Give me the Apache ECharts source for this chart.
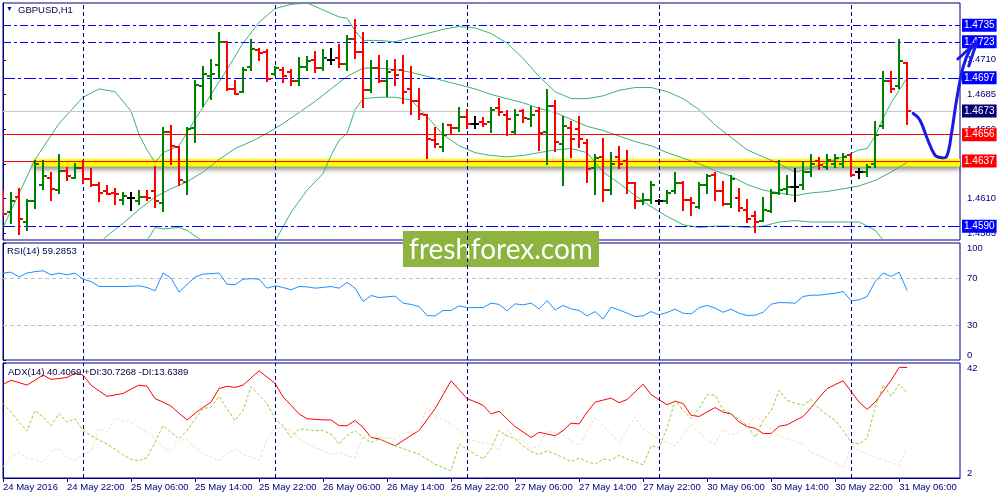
<!DOCTYPE html>
<html><head><meta charset="utf-8">
<script src="https://cdn.jsdelivr.net/npm/echarts@6/dist/echarts.min.js"></script>
<style>html,body{margin:0;padding:0;background:#fff}#c{width:1000px;height:500px}</style>
</head><body><div id="c"></div>
<script>
// ---- time axis ----
const timeLabels = ["24 May 2016","24 May 22:00","25 May 06:00","25 May 14:00","25 May 22:00","26 May 06:00","26 May 14:00","26 May 22:00","27 May 06:00","27 May 14:00","27 May 22:00","30 May 06:00","30 May 14:00","30 May 22:00","31 May 06:00"];
const tickBars = [0,8,16,24,32,40,48,56,64,72,80,88,96,104,112];
const daySeparators = [10,34,58,82,106];

// ---- GBPUSD H1 OHLC (bar index 0 = 24 May 14:00) ----
const opens = [1.4614,1.4600,1.4611,1.4593,1.4608,1.4620,1.4625,1.4616,1.4630,1.4625,1.4632,1.4624,1.4620,1.4615,1.4614,1.4609,1.4610,1.4608,1.4611,1.4615,1.4607,1.4658,1.4647,1.4622,1.4661,1.4691,1.4698,1.4706,1.4723,1.4689,1.4687,1.4705,1.4717,1.4716,1.4700,1.4703,1.4701,1.4695,1.4705,1.4710,1.4704,1.4710,1.4711,1.4707,1.4725,1.4716,1.4688,1.4704,1.4695,1.4703,1.4703,1.4689,1.4680,1.4670,1.4652,1.4647,1.4663,1.4661,1.4669,1.4664,1.4665,1.4665,1.4675,1.4670,1.4658,1.4673,1.4667,1.4673,1.4658,1.4677,1.4649,1.4661,1.4660,1.4650,1.4632,1.4640,1.4616,1.4640,1.4637,1.4621,1.4608,1.4609,1.4608,1.4608,1.4615,1.4621,1.4609,1.4604,1.4620,1.4627,1.4615,1.4606,1.4610,1.4602,1.4597,1.4594,1.4601,1.4614,1.4617,1.4618,1.4620,1.4629,1.4637,1.4633,1.4635,1.4635,1.4641,1.4629,1.4629,1.4635,1.4662,1.4695,1.4691,1.4708];
const highs = [1.4615,1.4614,1.4617,1.4609,1.4637,1.4637,1.4628,1.4641,1.4632,1.4635,1.4637,1.4631,1.4621,1.4619,1.4617,1.4614,1.4614,1.4615,1.4615,1.4633,1.4661,1.4662,1.4647,1.4661,1.4695,1.4705,1.4710,1.4729,1.4723,1.4695,1.4704,1.4724,1.4718,1.4717,1.4705,1.4704,1.4703,1.4711,1.4712,1.4716,1.4717,1.4718,1.4721,1.4727,1.4739,1.4729,1.4709,1.4713,1.4709,1.4710,1.4713,1.4705,1.4689,1.4670,1.4661,1.4664,1.4663,1.4675,1.4674,1.4669,1.4668,1.4675,1.4682,1.4673,1.4674,1.4674,1.4676,1.4675,1.4688,1.4680,1.4669,1.4665,1.4669,1.4652,1.4641,1.4653,1.4643,1.4647,1.4644,1.4621,1.4613,1.4622,1.4609,1.4615,1.4628,1.4622,1.4610,1.4621,1.4627,1.4628,1.4622,1.4626,1.4617,1.4609,1.4600,1.4610,1.4616,1.4637,1.4626,1.4631,1.4636,1.4641,1.4639,1.4641,1.4641,1.4642,1.4641,1.4631,1.4634,1.4665,1.4701,1.4701,1.4724,1.4708];
const lows = [1.4598,1.4592,1.4584,1.4587,1.4603,1.4617,1.4609,1.4614,1.4623,1.4625,1.4621,1.4619,1.4608,1.4613,1.4606,1.4606,1.4602,1.4606,1.4609,1.4604,1.4601,1.4635,1.4620,1.4613,1.4651,1.4677,1.4682,1.4697,1.4688,1.4685,1.4687,1.4703,1.4710,1.4695,1.4699,1.4694,1.4692,1.4692,1.4703,1.4701,1.4703,1.4707,1.4705,1.4703,1.4711,1.4676,1.4687,1.4694,1.4684,1.4692,1.4679,1.4671,1.4667,1.4639,1.4647,1.4644,1.4657,1.4659,1.4661,1.4661,1.4662,1.4658,1.4670,1.4656,1.4657,1.4665,1.4662,1.4645,1.4635,1.4644,1.4620,1.4640,1.4647,1.4622,1.4613,1.4608,1.4613,1.4632,1.4614,1.4603,1.4606,1.4607,1.4606,1.4607,1.4614,1.4602,1.4598,1.4603,1.4614,1.4609,1.4605,1.4604,1.4601,1.4593,1.4586,1.4594,1.4600,1.4613,1.4613,1.4608,1.4617,1.4626,1.4631,1.4631,1.4633,1.4633,1.4626,1.4625,1.4626,1.4633,1.4661,1.4687,1.4690,1.4664];
const closes = [1.4599,1.4608,1.4595,1.4608,1.4635,1.4626,1.4617,1.4630,1.4626,1.4632,1.4624,1.4620,1.4614,1.4613,1.4613,1.4612,1.4610,1.4611,1.4610,1.4608,1.4658,1.4648,1.4623,1.4660,1.4692,1.4700,1.4700,1.4723,1.4689,1.4685,1.4703,1.4718,1.4715,1.4696,1.4704,1.4698,1.4695,1.4705,1.4709,1.4704,1.4711,1.4710,1.4707,1.4725,1.4716,1.4688,1.4704,1.4695,1.4701,1.4699,1.4687,1.4680,1.4671,1.4653,1.4649,1.4656,1.4661,1.4669,1.4664,1.4664,1.4664,1.4674,1.4672,1.4667,1.4670,1.4668,1.4670,1.4657,1.4677,1.4651,1.4662,1.4653,1.4653,1.4631,1.4639,1.4616,1.4635,1.4635,1.4621,1.4608,1.4609,1.4620,1.4608,1.4614,1.4621,1.4609,1.4607,1.4620,1.4626,1.4615,1.4606,1.4624,1.4603,1.4595,1.4593,1.4602,1.4614,1.4616,1.4618,1.4618,1.4629,1.4635,1.4634,1.4638,1.4639,1.4640,1.4627,1.4629,1.4633,1.4656,1.4695,1.4689,1.4709,1.4673];

// ---- Bollinger bands (bar index, price) ----
const bbUpperIdx = [0,4,7,10,12,14,16,17,18,19,20,22,24,26,28,30,32,34,36,38,40,42,43,44,45,47,49,51,53,55,57,59,61,63,65,67,69,71,73,75,77,79,81,83,85,87,89,91,93,95,97,99,101,103,105,107,108,109,110,111,112,113];
const bbUpper = [1.4589,1.4638,1.4664,1.4683,1.4689,1.4687,1.4673,1.4656,1.4645,1.4636,1.4643,1.4648,1.4667,1.4685,1.4703,1.4722,1.4737,1.4747,1.4750,1.4751,1.4746,1.4741,1.4740,1.4731,1.4724,1.4724,1.4723,1.4726,1.4729,1.4732,1.4734,1.4733,1.4729,1.4722,1.4711,1.4698,1.4687,1.4682,1.4682,1.4684,1.4688,1.4690,1.4690,1.4687,1.4682,1.4674,1.4663,1.4654,1.4645,1.4640,1.4635,1.4629,1.4632,1.4636,1.4640,1.4645,1.4646,1.4655,1.4668,1.4679,1.4688,1.4697];
const bbMiddleIdx = [11,13,15,17,19,21,23,25,27,29,31,33,35,37,39,41,43,45,47,49,51,53,55,57,59,61,63,65,67,69,71,73,75,77,79,81,83,85,87,89,91,93,95,97,99,101,103,105,107,109,111,113];
const bbMiddle = [1.4572,1.4583,1.4592,1.4602,1.4611,1.4617,1.4622,1.4629,1.4638,1.4646,1.4651,1.4657,1.4664,1.4672,1.4680,1.4689,1.4698,1.4704,1.4704,1.4703,1.4701,1.4698,1.4695,1.4692,1.4689,1.4685,1.4682,1.4679,1.4675,1.4672,1.4667,1.4662,1.4659,1.4655,1.4651,1.4648,1.4643,1.4639,1.4635,1.4630,1.4626,1.4620,1.4616,1.4614,1.4612,1.4614,1.4615,1.4617,1.4619,1.4623,1.4629,1.4636];
const bbLowerIdx = [17,19,20,22,23,25,27,33,34,36,38,40,41,42,43,44,45,47,49,51,53,55,57,59,61,63,65,67,69,71,73,75,77,79,81,83,85,87,89,91,93,95,97,99,101,103,105,107,109,110,111];
const bbLower = [1.4570,1.4589,1.4588,1.4589,1.4587,1.4579,1.4568,1.4566,1.4579,1.4600,1.4616,1.4628,1.4641,1.4652,1.4657,1.4674,1.4682,1.4683,1.4683,1.4681,1.4669,1.4656,1.4648,1.4643,1.4641,1.4640,1.4641,1.4643,1.4645,1.4646,1.4643,1.4629,1.4621,1.4612,1.4604,1.4597,1.4591,1.4589,1.4590,1.4590,1.4589,1.4590,1.4593,1.4594,1.4593,1.4593,1.4593,1.4593,1.4587,1.4580,1.4571];

// ---- horizontal levels ----
const blueLevels = [1.4735, 1.4723, 1.4697, 1.4590];
const redLevels = [1.4656, 1.4637];
const bidPrice = 1.4673;
const zoneBars = [3.75, 119.6];
const zonePrices = [1.4633, 1.46385];
const priceTicks = [1.4585, 1.4610, 1.4635, 1.4660, 1.4685, 1.4710, 1.4735];

// ---- hand-drawn arrow annotation (bar index, price) ----
const arrowPath = [[113.74,1.46714],[114.58,1.46666],[115.42,1.46545],[116.46,1.46413],[117.2,1.46395],[117.92,1.46401],[118.54,1.46570],[119.17,1.46810],[120.0,1.47050],[120.83,1.47171],[121.67,1.47219]];
const arrowHead = [[119.33,1.47106],[121.7,1.47229],[120.7,1.47055]];

// ---- RSI(14) ----
const rsi = [74.3,75.1,70.9,74.3,75.5,76.3,72.8,74.3,72.8,74.3,69.1,67.1,62.8,62.8,62.8,62.8,63.0,63.4,62.0,59.1,74.3,70.0,58.0,64.5,70.9,73.4,73.8,74.3,64.8,64.3,69.1,69.5,69.1,61.4,63.4,62.0,60.0,62.8,62.5,61.4,62.0,62.8,61.4,66.3,61.4,50.0,55.1,53.4,54.0,54.6,48.6,47.5,45.7,38.0,37.7,42.3,42.3,46.3,44.8,44.8,44.8,48.6,47.5,42.0,48.0,47.1,48.6,43.7,50.8,42.8,46.6,43.7,42.3,37.7,41.4,35.1,45.1,42.8,40.0,37.1,37.7,41.4,38.6,40.6,43.4,40.0,39.4,44.8,46.6,44.3,40.8,43.4,40.0,38.0,38.3,40.8,47.7,49.1,48.9,48.6,54.3,55.4,55.4,56.3,57.0,58.6,50.6,51.4,54.3,67.1,74.3,71.4,75.1,59.3];
const rsiLevels = [30, 70];
const rsiTicks = [0, 30, 70, 100];

// ---- ADX(14) ----
const adx = [34.6,36.0,35.2,34.3,36.0,37.8,36.3,36.6,37.0,38.4,37.8,34.3,32.3,30.4,30.9,31.4,32.9,34.3,33.9,29.6,28.4,27.0,24.5,22.2,24.5,26.5,28.4,33.1,33.9,33.5,34.3,36.8,39.3,37.1,34.9,30.2,27.3,24.3,22.6,22.4,22.2,22.2,20.2,20.2,22.0,19.6,16.1,15.6,14.4,13.2,15.0,16.8,18.5,22.3,26.1,31.0,35.8,32.7,29.6,28.5,27.3,24.3,25.2,22.5,19.9,18.0,16.1,17.9,17.3,16.7,18.5,21.1,20.8,24.9,28.4,29.1,29.8,28.2,29.3,32.0,34.6,31.0,29.2,27.5,28.7,27.9,23.8,23.4,25.0,26.5,24.9,24.3,21.5,19.9,19.3,17.5,17.5,20.0,20.5,22.0,23.4,26.5,30.0,33.1,34.5,35.8,32.0,28.4,25.9,28.4,32.2,36.0,40.5,40.4];
const plusDI = [27.9,24.9,21.4,18.3,25.5,23.2,20.2,24.4,21.4,22.6,18.5,16.7,15.2,13.8,12.1,10.0,8.5,8.0,9.1,14.4,20.2,17.9,15.6,18.5,22.5,26.1,26.7,30.4,26.0,22.0,25.5,33.7,30.8,27.9,22.6,20.2,16.1,19.1,18.8,18.5,18.5,17.3,13.8,16.7,18.5,16.1,14.4,15.6,14.4,13.2,12.2,11.2,10.3,8.5,6.8,5.6,4.5,13.8,12.0,10.3,8.6,12.1,18.5,16.7,15.6,13.2,11.2,10.1,11.5,10.3,9.1,7.7,8.9,7.7,6.8,8.6,8.2,9.9,8.6,7.6,6.6,13.2,12.4,19.6,29.0,25.5,22.6,26.1,31.0,30.8,25.7,24.4,22.3,20.2,16.1,22.0,25.5,32.5,29.0,28.0,27.3,29.3,26.1,24.0,22.0,18.5,14.4,13.8,15.9,26.7,34.3,30.4,34.6,31.6];
const minusDI = [5.9,9.1,10.9,9.1,8.2,7.4,11.5,12.1,9.1,8.0,10.3,11.5,19.1,17.9,22.9,22.0,21.4,19.6,17.9,15.6,12.6,11.5,15.0,15.6,12.6,10.3,9.2,8.0,10.6,12.1,10.3,9.2,8.2,15.6,19.1,19.6,18.5,15.6,13.8,12.6,11.5,10.3,10.9,9.7,9.1,16.7,16.4,16.1,15.8,15.6,17.6,17.9,18.5,26.7,23.2,22.6,20.5,18.5,15.6,14.8,14.4,13.8,11.5,18.5,16.1,15.0,12.1,13.2,18.5,17.6,16.7,15.0,13.2,18.2,23.2,20.2,17.3,14.4,18.8,23.2,19.1,17.3,15.6,14.4,13.2,17.0,20.8,17.9,15.0,13.8,19.1,16.7,18.2,19.6,23.8,21.5,19.0,16.7,15.6,14.7,13.8,10.9,9.8,8.6,7.1,5.6,13.2,11.5,10.3,9.1,8.2,7.4,6.2,12.6];
const adxTicks = [2, 42];

// ---- styling ----
const NAVY = '#000080', TXT = '#00004a', FONT = 'Liberation Sans';
const BULL = '#008000', BEAR = '#ff0000', DOJI = '#000000', BB = '#3cb371';
const ARROW = '#1a1ae6';
const XMAX = 119.6;

const ohlcData = opens.map((o, i) => [i, o, highs[i], lows[i], closes[i]]);
const pairs = (idx, vals) => idx.map((x, k) => [x, vals[k]]);
const indexed = vals => vals.map((v, i) => [i, v]);

function renderBar(params, api) {
  const i = api.value(0), o = api.value(1), h = api.value(2), l = api.value(3), c = api.value(4);
  const pH = api.coord([i, h]), pL = api.coord([i, l]), pO = api.coord([i, o]), pC = api.coord([i, c]);
  const x = Math.round(pH[0]);
  const col = c > o ? BULL : (c < o ? BEAR : DOJI);
  const st = { stroke: col, lineWidth: 2 };
  const yo = Math.round(pO[1]), yc = Math.round(pC[1]);
  return { type: 'group', children: [
    { type: 'line', shape: { x1: x, y1: Math.round(pH[1]) - 1, x2: x, y2: Math.round(pL[1]) + 1 }, style: st },
    { type: 'line', shape: { x1: x - 4, y1: yo, x2: x, y2: yo }, style: st },
    { type: 'line', shape: { x1: x, y1: yc, x2: x + 4, y2: yc }, style: st }
  ]};
}

const sepMark = {
  silent: true, symbol: 'none', z: 4, precision: 5, label: { show: false },
  lineStyle: { color: NAVY, type: [4, 3], width: 1 },
  data: daySeparators.map(b => ({ xAxis: b }))
};

const boxLabel = bg => ({
  show: true, position: 'end', distance: 2, color: '#fff', backgroundColor: bg,
  padding: [2, 2, 1, 2], fontSize: 10, fontFamily: FONT, formatter: p => Number(p.value).toFixed(4)
});

const levelData = [
  ...blueLevels.map((p, k) => ({ yAxis: p, lineStyle: { color: '#0000ff', width: 1, type: k < 2 ? [8, 3, 3, 3] : [12, 3, 3, 3] }, label: boxLabel('#0000ff') })),
  ...redLevels.map(p => ({ yAxis: p, lineStyle: { color: '#ff0000', width: 1, type: 'solid' }, label: boxLabel('#ff0000') })),
  { yAxis: bidPrice, lineStyle: { color: '#c8c8c8', width: 1, type: 'solid' }, label: boxLabel('#000070') }
];

const sideAxis = (grid, min, max, ticks, extraLabel) => ({
  gridIndex: grid, type: 'value', position: 'right', min, max,
  axisLine: { show: true, lineStyle: { color: NAVY } },
  axisTick: { show: true, customValues: ticks, length: 3, lineStyle: { color: NAVY } },
  axisLabel: Object.assign({ customValues: ticks, color: NAVY, fontSize: 9.5, fontFamily: FONT, margin: 7 }, extraLabel),
  splitLine: { show: false }
});

const chart = echarts.init(document.getElementById('c'), null, { renderer: 'canvas' });
chart.setOption({
  animation: false,
  backgroundColor: '#ffffff',
  textStyle: { fontFamily: FONT },
  title: [
    { text: '▼', left: 6, top: 6, padding: 0, textStyle: { fontSize: 7, color: NAVY, fontWeight: 'normal' } },
    { text: 'GBPUSD,H1', left: 18, top: 5, padding: 0, textStyle: { fontSize: 9.5, color: TXT, fontWeight: 'normal', fontFamily: FONT } },
    { text: 'RSI(14) 59.2853', left: 7, top: 246, padding: 0, textStyle: { fontSize: 9.5, color: TXT, fontWeight: 'normal', fontFamily: FONT } },
    { text: 'ADX(14) 40.4069 +DI:30.7268 -DI:13.6389', left: 8, top: 367, padding: 0, textStyle: { fontSize: 9.5, color: TXT, fontWeight: 'normal', fontFamily: FONT } }
  ],
  grid: [
    { left: 3, right: 40, top: 3, height: 237, show: true, borderColor: NAVY, borderWidth: 1, backgroundColor: 'transparent' },
    { left: 3, right: 40, top: 243, height: 117, show: true, borderColor: NAVY, borderWidth: 1, backgroundColor: 'transparent' },
    { left: 3, right: 40, top: 363, height: 115, show: true, borderColor: NAVY, borderWidth: 1, backgroundColor: 'transparent' }
  ],
  xAxis: [
    { gridIndex: 0, type: 'value', min: 0, max: XMAX, show: false },
    { gridIndex: 1, type: 'value', min: 0, max: XMAX, show: false },
    { gridIndex: 2, type: 'value', min: 0, max: XMAX, position: 'bottom',
      axisLine: { show: true, lineStyle: { color: NAVY } },
      axisTick: { show: true, customValues: tickBars, length: 4, lineStyle: { color: NAVY } },
      axisLabel: { customValues: tickBars, formatter: v => timeLabels[tickBars.indexOf(v)], align: 'left', color: NAVY, fontSize: 9.5, fontFamily: FONT, margin: 4 },
      splitLine: { show: false } }
  ],
  yAxis: [
    sideAxis(0, 1.4580, 1.4751, priceTicks, { formatter: v => v.toFixed(4) }),
    sideAxis(1, 0, 100, rsiTicks, { formatter: v => String(v), verticalAlignMinLabel: 'bottom', verticalAlignMaxLabel: 'top' }),
    sideAxis(2, 2, 42, adxTicks, { formatter: v => String(v), verticalAlignMinLabel: 'bottom', verticalAlignMaxLabel: 'top' })
  ],
  series: [
    // support zone (yellow rectangle)
    { type: 'line', xAxisIndex: 0, yAxisIndex: 0, data: [], silent: true, z: 1,
      markArea: { silent: true, z: 1, precision: 5,
        itemStyle: { color: '#ffff00', shadowBlur: 5, shadowColor: 'rgba(0,0,0,0.45)', shadowOffsetY: 3 },
        data: [[{ xAxis: zoneBars[0], yAxis: zonePrices[0] }, { xAxis: zoneBars[1], yAxis: zonePrices[1] }]] } },
    // Bollinger bands
    { type: 'line', xAxisIndex: 0, yAxisIndex: 0, data: pairs(bbUpperIdx, bbUpper), symbol: 'none', silent: true, z: 3, lineStyle: { color: BB, width: 1 } },
    { type: 'line', xAxisIndex: 0, yAxisIndex: 0, data: pairs(bbMiddleIdx, bbMiddle), symbol: 'none', silent: true, z: 3, lineStyle: { color: BB, width: 1 },
      markLine: { silent: true, symbol: 'none', z: 4, precision: 5, data: levelData } },
    { type: 'line', xAxisIndex: 0, yAxisIndex: 0, data: pairs(bbLowerIdx, bbLower), symbol: 'none', silent: true, z: 3, lineStyle: { color: BB, width: 1 },
      markLine: sepMark },
    // price bars
    { type: 'custom', xAxisIndex: 0, yAxisIndex: 0, data: ohlcData, renderItem: renderBar, clip: true, z: 10, silent: true,
      encode: { x: 0, y: [1, 2, 3, 4] } },
    // RSI
    { type: 'line', xAxisIndex: 1, yAxisIndex: 1, data: indexed(rsi), symbol: 'none', silent: true, z: 3,
      lineStyle: { color: '#1e90ff', width: 1 },
      markLine: { silent: true, symbol: 'none', z: 2, precision: 5, label: { show: false },
        data: [
          ...rsiLevels.map(v => ({ yAxis: v, lineStyle: { color: '#c0c0c0', type: [4, 3], width: 1 } })),
          ...daySeparators.map(b => ({ xAxis: b, lineStyle: { color: NAVY, type: [4, 3], width: 1 } }))
        ] } },
    // ADX
    { type: 'line', xAxisIndex: 2, yAxisIndex: 2, data: indexed(adx), symbol: 'none', silent: true, z: 3,
      lineStyle: { color: '#ff0000', width: 1 }, markLine: sepMark },
    { type: 'line', xAxisIndex: 2, yAxisIndex: 2, data: indexed(plusDI), symbol: 'none', silent: true, z: 3,
      lineStyle: { color: '#9acd32', width: 1, type: [3, 2] } },
    { type: 'line', xAxisIndex: 2, yAxisIndex: 2, data: indexed(minusDI), symbol: 'none', silent: true, z: 3,
      lineStyle: { color: '#f5deb3', width: 1, type: [3, 2] } }
  ],
  graphic: [
    { type: 'group', left: 403, top: 231, z: 100, silent: true, children: [
      { type: 'rect', shape: { x: 0, y: 0, width: 196, height: 36 }, style: { fill: '#8db43f' } },
      { type: 'text', x: 98, y: 19, style: { text: 'freshforex.com', fill: '#ffffff', font: '28px Lato',
        align: 'center', verticalAlign: 'middle', textAlign: 'center', textVerticalAlign: 'middle' } }
    ] }
  ]
});

// arrow annotation: positioned through the price/time scales of the main grid
const toPx = p => chart.convertToPixel({ gridIndex: 0 }, p);
chart.setOption({
  graphic: [
    { id: 'arrowBody', type: 'polyline', z: 120, silent: true,
      shape: { points: arrowPath.map(toPx), smooth: 0.4 },
      style: { stroke: ARROW, lineWidth: 3, fill: null, lineCap: 'round', lineJoin: 'round' } },
    { id: 'arrowHead', type: 'polyline', z: 120, silent: true,
      shape: { points: arrowHead.map(toPx) },
      style: { stroke: ARROW, lineWidth: 3, fill: null, lineCap: 'round', lineJoin: 'round' } }
  ]
});
</script>
</body></html>
